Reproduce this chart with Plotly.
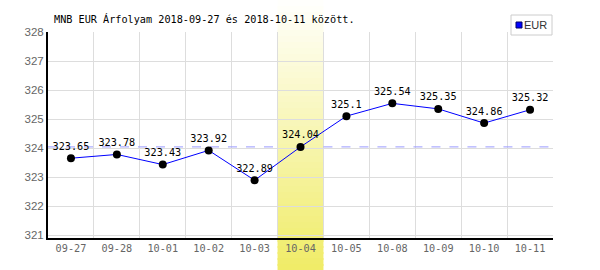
import plotly.graph_objects as go

dates = ["09-27", "09-28", "10-01", "10-02", "10-03", "10-04", "10-05", "10-08", "10-09", "10-10", "10-11"]
values = [323.65, 323.78, 323.43, 323.92, 322.89, 324.04, 325.1, 325.54, 325.35, 324.86, 325.32]
labels = ["323.65", "323.78", "323.43", "323.92", "322.89", "324.04", "325.1", "325.54", "325.35", "324.86", "325.32"]
highlight = "10-04"
average = 324.04
title = "MNB EUR Árfolyam 2018-09-27 és 2018-10-11 között."
series_name = "EUR"
y_ticks = [321, 322, 323, 324, 325, 326, 327, 328]

MONO = "DejaVu Sans Mono, Liberation Mono, monospace"
SANS = "Liberation Sans, Arial, sans-serif"
W, H = 600, 270
ML, MR, MT, MB = 48, 47, 32, 32
PW, PH = W - ML - MR, H - MT - MB


def px_x(x):
    return (x - ML) / PW


def px_y(y):
    return (H - MB - y) / PH


fig = go.Figure()

shapes = []
# gradient highlight band (many thin slices)
hi = dates.index(highlight)
n = 45
top_c = (255, 255, 252)
bot_c = (240, 236, 104)
y_lo, y_hi = px_y(H), px_y(0)
for i in range(n):
    t = i / (n - 1)
    c = tuple(int(round(top_c[k] + (bot_c[k] - top_c[k]) * t)) for k in range(3))
    ya = y_hi - (y_hi - y_lo) * i / n
    yb = y_hi - (y_hi - y_lo) * (i + 1) / n - 0.01
    shapes.append(dict(type="rect", xref="x", yref="paper", x0=hi - 0.5, x1=hi + 0.5,
                       y0=yb, y1=ya, fillcolor=f"rgb{c}", line=dict(width=0), layer="between"))

# average dashed line: left and right of the band
shapes.append(dict(type="line", xref="x", yref="y", x0=-0.5, x1=hi - 0.5, y0=average, y1=average,
                   line=dict(color="#9999ff", width=1, dash="dash"), layer="between"))
shapes.append(dict(type="line", xref="x", yref="y", x0=hi + 0.5, x1=len(dates) - 0.5, y0=average, y1=average,
                   line=dict(color="#9999ff", width=1, dash="dash"), layer="between"))

# legend box (manual)
shapes.append(dict(type="rect", xref="paper", yref="paper",
                   x0=px_x(511), x1=px_x(552), y0=px_y(35), y1=px_y(15),
                   line=dict(color="#cccccc", width=1), fillcolor="white", layer="above"))
shapes.append(dict(type="rect", xref="paper", yref="paper",
                   x0=px_x(516), x1=px_x(522), y0=px_y(28), y1=px_y(22),
                   line=dict(color="#000066", width=1), fillcolor="#0000ff", layer="above"))

fig.add_trace(go.Scatter(
    x=dates, y=values, mode="lines+markers+text",
    line=dict(color="#0000ff", width=1),
    marker=dict(color="#000000", size=8),
    text=labels, textposition="top center",
    textfont=dict(family=MONO, size=10.2, color="#000000"),
    showlegend=False, cliponaxis=False,
))

fig.update_layout(
    width=W, height=H,
    margin=dict(l=ML, r=MR, t=MT, b=MB, autoexpand=False),
    paper_bgcolor="white", plot_bgcolor="rgba(0,0,0,0)",
    shapes=shapes,
    showlegend=False,
    annotations=[
        dict(text=title, xref="paper", yref="paper", x=px_x(52), y=px_y(19),
             xanchor="left", yanchor="middle", showarrow=False,
             font=dict(family=MONO, size=10.2, color="#000000")),
        dict(text=series_name, xref="paper", yref="paper", x=px_x(522), y=px_y(25),
             xanchor="left", yanchor="middle", showarrow=False,
             font=dict(family=SANS, size=11, color="#333333")),
    ],
    font=dict(family=MONO),
)

fig.update_xaxes(
    type="category", tickson="boundaries", showgrid=True, gridcolor="#dddddd", gridwidth=1,
    showline=True, linecolor="#000000", linewidth=2, ticks="", mirror=False,
    tickfont=dict(family=MONO, size=10.2, color="#666666"),
    range=[-0.5, len(dates) - 0.5], zeroline=False,
)
fig.update_yaxes(
    range=[320.9, 328], tickvals=y_ticks, showgrid=True, gridcolor="#dddddd", gridwidth=1,
    showline=True, linecolor="#000000", linewidth=2, ticks="", zeroline=False,
    tickfont=dict(family=SANS, size=11.5, color="#666666"),
)

fig.write_html("out.html")
